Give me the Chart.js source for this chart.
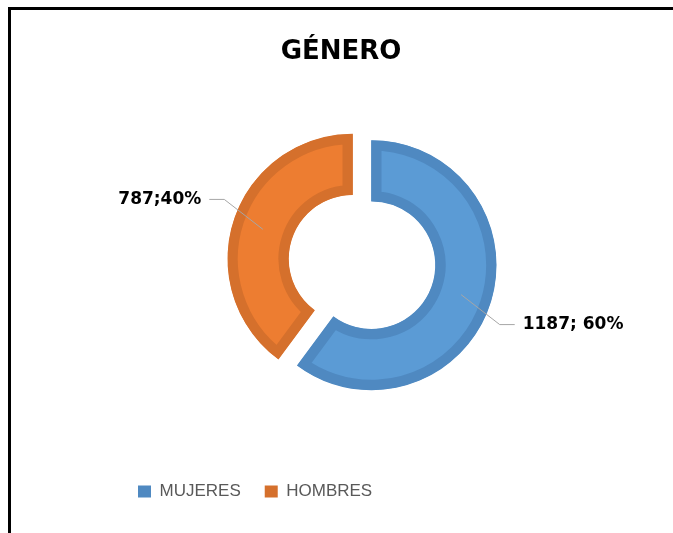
<!DOCTYPE html>
<html>
<head>
<meta charset="utf-8">
<script src="https://cdn.jsdelivr.net/npm/chart.js@4/dist/chart.umd.min.js"></script>
<style>
  html, body { margin: 0; padding: 0; background: #fff; }
  .frame {
    position: absolute; left: 8px; top: 7px; width: 700px; height: 600px;
    border-left: 3px solid #000; border-top: 3px solid #000;
  }
  .wrap { position: absolute; left: 0; top: 0; width: 673px; height: 533px; overflow: hidden; }
  canvas { position: absolute; left: 0; top: 0; }
</style>
</head>
<body>
<div class="wrap">
  <div class="frame"></div>
  <canvas id="chart" width="673" height="533"></canvas>
</div>
<script>
const chartTitle = "GÉNERO";
const categories = ["MUJERES", "HOMBRES"];
const counts = [1187, 787];
const percents = [60, 40];
const labelSeparators = ["; ", ";"];
const fillColors = ["#5b9bd5", "#ed7d31"];
const edgeColors = ["#4f89c1", "#d5702c"];
const EXPLODE = 10;

// title drawn by hand, the ring is not centred under it
const titlePlugin = {
  id: "titleText",
  afterDraw(chart) {
    const ctx = chart.ctx;
    ctx.save();
    ctx.font = "bold 26px 'DejaVu Sans'";
    ctx.fillStyle = "#000";
    ctx.textAlign = "center";
    ctx.textBaseline = "alphabetic";
    ctx.fillText(chartTitle, 341, 59);
    ctx.restore();
  }
};

// pull slices apart (built-in offset breaks the inner border clip)
const explodePlugin = {
  id: "explode",
  beforeDatasetDraw(chart, args) {
    const ctx = chart.ctx;
    args.meta.data.forEach((arc) => {
      const mid = (arc.startAngle + arc.endAngle) / 2;
      ctx.save();
      ctx.translate(Math.cos(mid) * EXPLODE, Math.sin(mid) * EXPLODE);
      arc.draw(ctx, chart.chartArea);
      ctx.restore();
    });
    return false;
  }
};

// value; percent labels with leader lines
const sliceLabels = {
  id: "sliceLabels",
  afterDatasetsDraw(chart) {
    const ctx = chart.ctx;
    const meta = chart.getDatasetMeta(0);
    meta.data.forEach((arc, i) => {
      const p = arc.getProps(["x", "y", "startAngle", "endAngle", "innerRadius", "outerRadius"], true);
      const mid = (p.startAngle + p.endAngle) / 2;
      const dx = Math.cos(mid), dy = Math.sin(mid);
      const rMid = (p.innerRadius + p.outerRadius) / 2 + EXPLODE;
      const x0 = p.x + dx * rMid, y0 = p.y + dy * rMid;
      const x1 = p.x + dx * 145, y1 = p.y + dy * 200;
      const side = dx >= 0 ? 1 : -1;
      const x2 = x1 + side * 15;
      ctx.save();
      ctx.strokeStyle = "#a6a6a6";
      ctx.lineWidth = 1;
      ctx.beginPath();
      ctx.moveTo(x0, y0);
      ctx.lineTo(x1, y1);
      ctx.lineTo(x2, y1);
      ctx.stroke();
      ctx.font = "bold 17px 'DejaVu Sans'";
      ctx.fillStyle = "#000";
      ctx.textBaseline = "middle";
      ctx.textAlign = side > 0 ? "left" : "right";
      ctx.fillText(counts[i] + labelSeparators[i] + percents[i] + "%", x2 + side * 8, y1);
      ctx.restore();
    });
  }
};

const baseLabels = Chart.overrides.doughnut.plugins.legend.labels.generateLabels;

new Chart(document.getElementById("chart"), {
  type: "doughnut",
  data: {
    labels: categories,
    datasets: [{
      data: counts,
      backgroundColor: fillColors,
      borderColor: edgeColors,
      borderWidth: 10,
      borderAlign: "inner",
      borderJoinStyle: "miter"
    }]
  },
  options: {
    responsive: false,
    animation: false,
    radius: 125,
    cutout: "51%",
    layout: { padding: { left: 114, right: 63, top: 65, bottom: 23 } },
    plugins: {
      title: { display: false },
      tooltip: { enabled: false },
      legend: {
        position: "bottom",
        align: "start",
        labels: {
          boxWidth: 13,
          boxHeight: 12,
          padding: 24,
          color: "#595959",
          font: { family: "'Liberation Sans'", size: 17 },
          generateLabels(chart) {
            return baseLabels(chart).map((item, i) => Object.assign(item, {
              fillStyle: edgeColors[i], strokeStyle: edgeColors[i], lineWidth: 0
            }));
          }
        }
      }
    }
  },
  plugins: [titlePlugin, explodePlugin, sliceLabels]
});
</script>
</body>
</html>
